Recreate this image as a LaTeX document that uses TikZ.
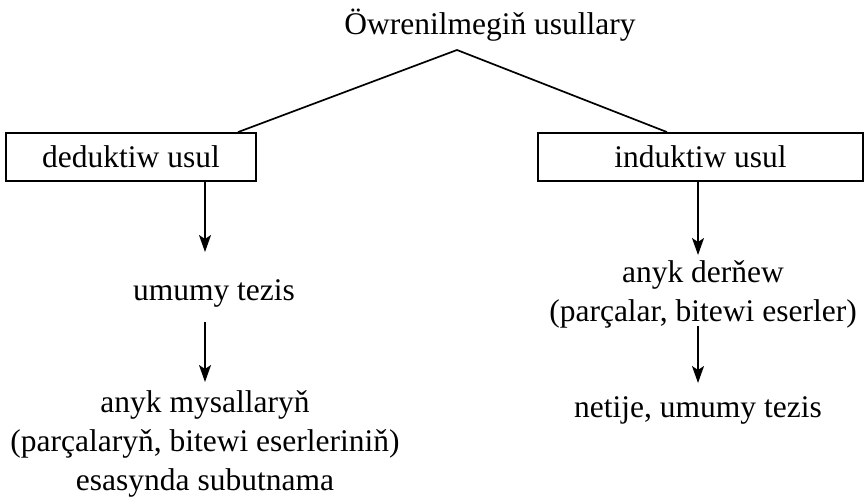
\documentclass[tikz,border=0pt]{standalone}
\usepackage{fontspec}
\setmainfont{Liberation Serif}
\usetikzlibrary{arrows.meta}

\tikzset{
  txt/.style={align=center, inner sep=0pt, font=\fontsize{31.5}{39}\selectfont},
  usulbox/.style={draw, line width=1.8pt, minimum height=48pt, inner sep=0pt, font=\fontsize{31.5}{39}\selectfont},
  arr/.style={line width=1.7pt, -{Stealth[length=17pt,width=12pt,inset=4pt]}}
}

\begin{document}
\begin{tikzpicture}[x=1pt,y=1pt]
    \useasboundingbox (0,0) rectangle (864,501);
    \node[txt] (title) at (490,476) {Öwrenilmegiň usullary};
    \coordinate (apex) at (457,451);
    \node[usulbox, minimum width=250pt] (ded) at (131,344) {deduktiw usul};
    \node[usulbox, minimum width=325pt] (ind) at (700.5,344) {induktiw usul};
    \draw[line width=1.7pt] (ded.north -| 238,0) -- (apex) -- (ind.north -| 667,0);
    % deduktiw
    \node[txt] (umumy) at (214,208) {umumy tezis};
    \node[txt] (mysal) at (205,57) {anyk mysallaryň\\(parçalaryň, bitewi eserleriniň)\\esasynda subutnama};
    \draw[arr] (ded.south -| 205,0) -- (205,249);
    \draw[arr] (205,179) -- (205,119);
    % induktiw
    \node[txt] (dernew) at (703,207) {anyk derňew\\(parçalar, bitewi eserler)};
    \node[txt] (netije) at (698,91) {netije, umumy tezis};
    \draw[arr] (ind.south -| 698,0) -- (698,246);
    \draw[arr] (698,175) -- (698,118);
\end{tikzpicture}
\end{document}
